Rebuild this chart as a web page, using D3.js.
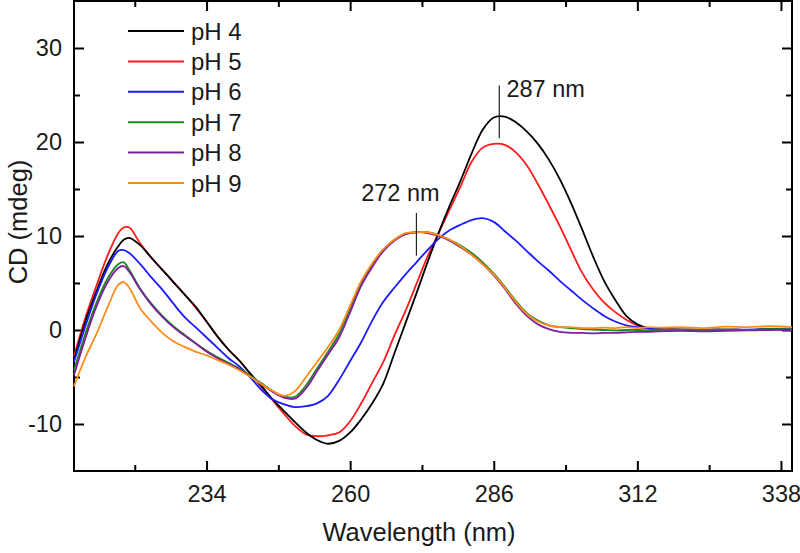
<!DOCTYPE html>
<html><head><meta charset="utf-8">
<script src="https://cdn.jsdelivr.net/npm/d3@7/dist/d3.min.js"></script>
<style>
body{margin:0;background:#fff;}
svg{display:block;font-family:"Liberation Sans",Arial,sans-serif;}
</style></head><body>
<svg id="chart" width="800" height="553"></svg>
<script>
const wavelengths = [210,212,214,216,218,219,220,222,224,226,228,230,232,234,236,238,240,242,244,246,248,250,252,254,256,258,260,262,264,266,268,270,272,274,276,278,280,282,284,286,288,290,292,294,296,298,300,302,304,306,308,310,312,314,316,320,324,328,332,336,340];
const pH4 = [-3.2,0.8,4.0,6.9,8.9,9.6,9.8,9.0,7.7,6.4,5.1,3.8,2.5,0.9,-0.7,-2.1,-3.3,-4.7,-6.0,-7.4,-8.6,-9.8,-10.9,-11.7,-12.1,-11.8,-10.9,-9.5,-7.8,-5.7,-2.5,0.7,3.9,7.2,10.3,13.2,15.9,18.8,21.3,22.6,22.7,22.1,21.1,19.8,18.1,16.0,13.5,10.7,7.8,5.2,3.2,1.5,0.6,0.2,0.1,0.05,0.0,0.05,0.0,0.1,0.05];
const pH5 = [-2.8,1.2,4.6,7.8,10.3,10.9,10.9,9.2,7.7,6.4,5.1,3.8,2.4,0.9,-0.7,-2.1,-3.3,-4.7,-6.1,-7.5,-8.9,-10.2,-11.1,-11.3,-11.2,-10.9,-9.7,-7.8,-5.6,-3.4,-0.6,2.0,4.9,7.8,10.3,12.8,15.3,17.9,19.4,19.8,19.7,18.9,17.5,15.5,13.3,11.0,8.5,6.1,4.3,2.9,1.9,1.1,0.5,0.2,0.1,0.05,0.0,0.05,0.0,0.1,0.05];
const pH6 = [-3.4,0.3,3.7,6.5,8.4,8.5,8.2,7.0,5.6,4.3,2.8,1.4,0.3,-0.8,-1.9,-3.0,-3.9,-5.1,-6.4,-7.4,-7.9,-8.2,-8.1,-7.8,-7.0,-5.3,-3.3,-1.3,1.0,3.0,4.5,5.9,7.2,8.5,9.7,10.6,11.2,11.7,11.9,11.5,10.5,9.5,8.4,7.3,6.3,5.2,4.2,3.2,2.3,1.5,0.9,0.5,0.3,0.15,0.05,0.0,0.05,0.0,0.05,0.1,0.05];
const pH7 = [-4.3,-0.5,2.8,5.4,7.0,7.2,6.4,4.4,2.8,1.5,0.4,-0.5,-1.4,-2.2,-2.9,-3.5,-4.1,-4.9,-5.7,-6.5,-7.1,-7.1,-5.9,-4.1,-2.3,-0.4,2.3,5.0,6.9,8.5,9.6,10.2,10.4,10.4,10.1,9.6,9.0,8.2,7.2,6.0,4.6,3.1,1.8,1.0,0.5,0.3,0.2,0.1,0.05,0.0,-0.05,0.0,0.0,-0.05,0.0,0.05,0.0,0.05,0.0,0.1,0.05];
const pH8 = [-4.8,-1.0,2.4,5.0,6.6,6.8,6.2,4.3,2.7,1.4,0.3,-0.6,-1.4,-2.3,-3.0,-3.6,-4.2,-5.0,-5.8,-6.6,-7.2,-7.3,-6.2,-4.4,-2.6,-0.8,1.9,4.7,6.7,8.4,9.5,10.2,10.4,10.3,10.0,9.5,8.8,8.0,7.0,5.8,4.4,2.8,1.5,0.6,0.1,-0.2,-0.3,-0.3,-0.35,-0.3,-0.3,-0.25,-0.2,-0.2,-0.15,-0.1,-0.15,-0.1,-0.05,0.0,0.0];
const pH9 = [-6.0,-3.0,-0.5,2.3,4.8,5.1,4.5,2.3,0.9,-0.3,-1.2,-1.8,-2.3,-2.7,-3.2,-3.7,-4.3,-5.0,-5.8,-6.5,-7.0,-6.5,-5.0,-3.4,-1.8,0.0,2.6,5.2,7.1,8.6,9.6,10.3,10.4,10.4,10.1,9.6,8.9,8.0,7.0,5.9,4.5,3.0,1.7,0.9,0.5,0.3,0.3,0.2,0.2,0.25,0.2,0.3,0.2,0.3,0.25,0.3,0.2,0.35,0.3,0.4,0.3];

const seriesNames = ["pH 4","pH 5","pH 6","pH 7","pH 8","pH 9"];
const seriesValues = [pH4,pH5,pH6,pH7,pH8,pH9];
const seriesColors = ["#000000","#ff1a1a","#1a1aff","#1a8a1a","#7f1f9f","#ff8c1a"];
const drawOrder = [1,0,2,3,4,5];

const xMajorTicks = [234,260,286,312,338];
const xMinorTicks = [221,247,273,299,325];
const yMajorTicks = [-10,0,10,20,30];
const yMinorTicks = [-5,5,15,25];
const annotations = [
  {label:"287 nm", nm:287, y1:20.4, y2:26.0, tx:288.3, ty:24.8, anchor:"start"},
  {label:"272 nm", nm:272, y1:7.9, y2:12.45, tx:262.0, ty:13.7, anchor:"start"}
];

const L=74, R=792, T=1, B=471;
const svg = d3.select("#chart");
const x = d3.scaleLinear().domain([210,340]).range([L,R]);
const y = d3.scaleLinear().domain([-15,35]).range([B,T]);

const fs = 23.5;
const fontFam = "'Liberation Sans',Arial,sans-serif";
function styleAxis(g){
  g.select(".domain").remove();
  g.selectAll("line").attr("stroke","#000").attr("stroke-width",2);
  g.selectAll("text").attr("font-size",fs).attr("fill","#1a1a1a").attr("font-family",fontFam);
}
const fmt = d => String(d);
// bottom
svg.append("g").attr("transform",`translate(0,${B})`)
  .call(d3.axisBottom(x).tickValues(xMajorTicks).tickSize(-10).tickPadding(14).tickFormat(fmt)).call(styleAxis);
svg.append("g").attr("transform",`translate(0,${B})`)
  .call(d3.axisBottom(x).tickValues(xMinorTicks).tickSize(-6).tickFormat("")).call(styleAxis);
// top
svg.append("g").attr("transform",`translate(0,${T})`)
  .call(d3.axisTop(x).tickValues(xMajorTicks).tickSize(-10).tickFormat("")).call(styleAxis);
svg.append("g").attr("transform",`translate(0,${T})`)
  .call(d3.axisTop(x).tickValues(xMinorTicks).tickSize(-6).tickFormat("")).call(styleAxis);
// left
svg.append("g").attr("transform",`translate(${L},0)`)
  .call(d3.axisLeft(y).tickValues(yMajorTicks).tickSize(-10).tickPadding(12).tickFormat(fmt)).call(styleAxis);
svg.append("g").attr("transform",`translate(${L},0)`)
  .call(d3.axisLeft(y).tickValues(yMinorTicks).tickSize(-6).tickFormat("")).call(styleAxis);
// right
svg.append("g").attr("transform",`translate(${R},0)`)
  .call(d3.axisRight(y).tickValues(yMajorTicks).tickSize(-10).tickFormat("")).call(styleAxis);
svg.append("g").attr("transform",`translate(${R},0)`)
  .call(d3.axisRight(y).tickValues(yMinorTicks).tickSize(-6).tickFormat("")).call(styleAxis);

svg.append("rect").attr("x",L).attr("y",T).attr("width",R-L).attr("height",B-T)
  .attr("fill","none").attr("stroke","#000").attr("stroke-width",2);

const line = d3.line().x(d=>x(d[0])).y(d=>y(d[1])).curve(d3.curveCatmullRom.alpha(0.5));
drawOrder.forEach(i=>{
  const pts = wavelengths.map((w,j)=>[w,seriesValues[i][j]]);
  svg.append("path").datum(pts).attr("d",line).attr("fill","none")
    .attr("stroke",seriesColors[i]).attr("stroke-width",1.8).attr("stroke-linejoin","round");
});

// annotations
annotations.forEach(a=>{
  svg.append("line").attr("x1",x(a.nm)).attr("x2",x(a.nm)).attr("y1",y(a.y1)).attr("y2",y(a.y2))
    .attr("stroke","#222").attr("stroke-width",1.2);
  svg.append("text").attr("x",x(a.tx)).attr("y",y(a.ty)).attr("text-anchor",a.anchor)
    .attr("font-size",fs).attr("fill","#1a1a1a").text(a.label);
});

// legend
seriesNames.forEach((n,i)=>{
  const yy = 31 + i*30.4;
  svg.append("line").attr("x1",128).attr("x2",184).attr("y1",yy).attr("y2",yy)
    .attr("stroke",seriesColors[i]).attr("stroke-width",2);
  svg.append("text").attr("x",191).attr("y",yy+8.5).attr("font-size",24).attr("fill","#1a1a1a").text(n);
});

// axis titles
svg.append("text").attr("x",(L+R)/2-14).attr("y",541).attr("text-anchor","middle").attr("font-size",25.5).attr("fill","#1a1a1a").text("Wavelength (nm)");
svg.append("text").attr("transform",`translate(27,222) rotate(-90)`).attr("text-anchor","middle").attr("font-size",25.5).attr("fill","#1a1a1a").text("CD (mdeg)");
</script></body></html>
